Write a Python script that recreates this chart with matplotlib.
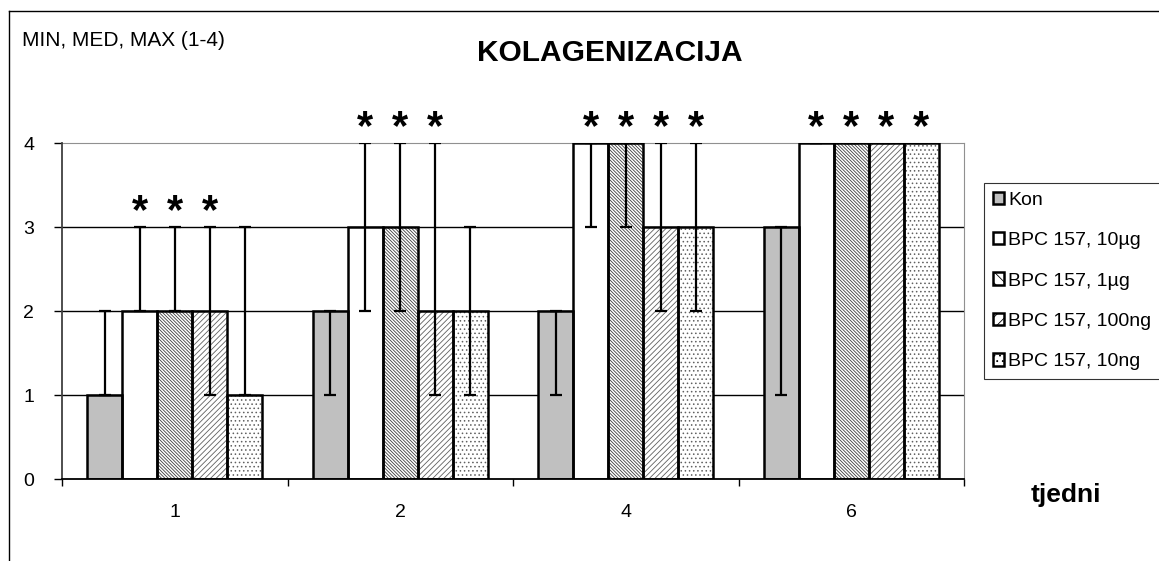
import matplotlib.pyplot as plt
import numpy as np
from matplotlib.lines import Line2D
from matplotlib.patches import Patch

plt.rcParams['font.family'] = ['Liberation Sans', 'DejaVu Sans']
plt.rcParams['hatch.linewidth'] = 0.6

weeks = ['1', '2', '4', '6']
series = ['Kon', 'BPC 157, 10µg', 'BPC 157, 1µg', 'BPC 157, 100ng', 'BPC 157, 10ng']

# medians per series, one value per week
med = [[1, 2, 2, 3],
       [2, 3, 4, 4],
       [2, 3, 4, 4],
       [2, 2, 3, 4],
       [1, 2, 3, 4]]
mins = [[1, 1, 1, 1],
        [2, 2, 3, 4],
        [2, 2, 3, 4],
        [1, 1, 2, 4],
        [1, 1, 2, 4]]
maxs = [[2, 2, 2, 3],
        [3, 4, 4, 4],
        [3, 4, 4, 4],
        [3, 4, 4, 4],
        [3, 3, 4, 4]]
# significance stars (True = star above bar)
stars = [[False, False, False, False],
         [True, True, True, True],
         [True, True, True, True],
         [True, True, True, True],
         [False, False, True, True]]

colors = ['#c0c0c0', 'white', 'white', 'white', 'white']
hatches = [None, None, '\\' * 10, '/' * 6, '....']
hatch_colors = ['black', 'black', '#404040', '#606060', '#606060']

fig = plt.figure(figsize=(11.59, 5.61), dpi=100)
W, H = 1159, 561
ax = fig.add_axes([62 / W, 1 - 479 / H, (964 - 62) / W, (479 - 143) / H])

x = np.arange(len(weeks))
width = 0.155

handles = []
for i, name in enumerate(series):
    pos = x + (i - 2) * width
    m = np.array(med[i])
    lo = m - np.array(mins[i])
    hi = np.array(maxs[i]) - m
    # hatch layer in a softer colour, then a black outline on top
    ax.bar(pos, m, width, color=colors[i], edgecolor=hatch_colors[i], linewidth=0,
           hatch=hatches[i], zorder=2)
    ax.bar(pos, m, width, fill=False, edgecolor='black', linewidth=1.8, zorder=2.1)
    ax.errorbar(pos, m, yerr=[lo, hi], fmt='none', ecolor='black',
                elinewidth=1.6, capsize=4.5, capthick=1.6, zorder=3)
    for j in range(len(weeks)):
        if stars[i][j]:
            ax.annotate('*', xy=(pos[j], maxs[i][j]), xytext=(0, -4),
                        textcoords='offset points', ha='center', va='bottom',
                        fontsize=30, fontweight='bold', annotation_clip=False)
    handles.append(Patch(facecolor=colors[i], edgecolor='black', linewidth=1.8,
                         hatch=hatches[i] and hatches[i][:3], label=name))

ax.set_xlim(-0.5, 3.5)
ax.set_ylim(0, 4)
ax.set_yticks([0, 1, 2, 3, 4])
ax.set_xticks(x)
ax.set_xticklabels(weeks)
ax.set_xticks(np.arange(-0.5, 4, 1), minor=True)
ax.tick_params(axis='x', which='major', length=0, pad=18, labelsize=14)
ax.tick_params(axis='x', which='minor', length=5, width=1)
ax.tick_params(axis='y', length=6, width=1, labelsize=14, pad=14)
for v in [1, 2, 3]:
    ax.axhline(v, color='black', linewidth=1, zorder=1)

ax.spines['top'].set_color('#909090')
ax.spines['right'].set_color('#909090')
ax.spines['left'].set_color('#404040')
ax.spines['left'].set_linewidth(1.3)
ax.spines['bottom'].set_linewidth(1.3)
ax.spines['top'].set_zorder(0.5)

fig.text(22 / W, 1 - 41 / H, 'MIN, MED, MAX (1-4)', fontsize=15, va='center')
fig.text(610 / W, 1 - 53 / H, 'KOLAGENIZACIJA', fontsize=21.5, fontweight='bold',
         ha='center', va='center')
fig.text(1066 / W, 1 - 495 / H, 'tjedni', fontsize=19, fontweight='bold',
         ha='center', va='center')

leg = ax.legend(handles=handles, loc='upper left', bbox_to_anchor=(984 / W, 1 - 183 / H),
                bbox_transform=fig.transFigure, fontsize=14, frameon=True,
                fancybox=False, edgecolor='black', handlelength=0.6,
                handleheight=0.6, handletextpad=0.2, labelspacing=1.2,
                borderpad=0.45, borderaxespad=0)
leg.get_frame().set_linewidth(0.8)

# outer chart frame (clipped by the image edge)
fig.add_artist(Line2D([8.5 / W, 8.5 / W], [0, 1 - 11 / H], color='black', linewidth=1))
fig.add_artist(Line2D([8.5 / W, 1], [1 - 11 / H, 1 - 11 / H], color='black', linewidth=1))

fig.savefig('out.png', dpi=100)
